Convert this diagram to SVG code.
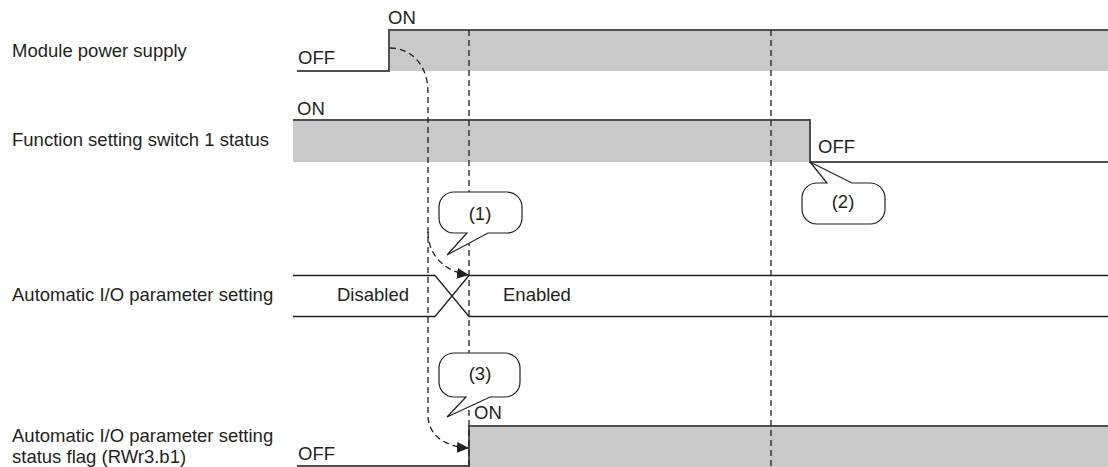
<svg xmlns="http://www.w3.org/2000/svg" width="1108" height="467" viewBox="0 0 1108 467">
<style>
text{font-family:"Liberation Sans",Arial,sans-serif;font-size:18.5px;fill:#231f20}
.lvl{stroke:#505050;stroke-width:2;fill:none}
.thin{stroke:#231f20;stroke-width:1.3;fill:none}
.fillg{fill:#c8c9ca}
.dash{stroke:#231f20;stroke-width:1.3;fill:none;stroke-dasharray:6 4}
.call{fill:#fff;stroke:#231f20;stroke-width:1.2}
.ct{text-anchor:middle}
</style>
<defs>
<marker id="ah" markerUnits="userSpaceOnUse" markerWidth="12" markerHeight="12" refX="11" refY="5" orient="auto" viewBox="0 0 11 10">
<path d="M0,0 L11,5 L0,10 z" fill="#231f20"/>
</marker>
</defs>
<g id="labels">
<text x="12" y="57">Module power supply</text>
<text x="12" y="146">Function setting switch 1 status</text>
<text x="12" y="301">Automatic I/O parameter setting</text>
<text x="12" y="442">Automatic I/O parameter setting</text>
<text x="12" y="463">status flag (RWr3.b1)</text>
</g>
<g id="power">
<rect class="fillg" x="389" y="30" width="719" height="41"/>
<path class="lvl" d="M297,71 H389 V30 H1108"/>
<text x="388" y="24">ON</text>
<text x="298" y="64">OFF</text>
</g>
<g id="switch">
<rect class="fillg" x="293" y="120" width="517" height="42"/>
<path class="lvl" d="M293,120 H810 V162 H1108"/>
<text x="297" y="115">ON</text>
<text x="818" y="153">OFF</text>
</g>
<g id="autoio">
<path class="thin" d="M293,275.5 H435 L469,316.5 H1108 M293,316.5 H435 L469,275.5 H1108"/>
<text x="337" y="301">Disabled</text>
<text x="503" y="301">Enabled</text>
</g>
<g id="flag">
<rect class="fillg" x="469" y="426" width="639" height="41"/>
<path class="lvl" d="M297,466 H469 V426 H1108"/>
<text x="298" y="460">OFF</text>
<text x="474" y="419">ON</text>
</g>
<g id="connectors">
<path class="dash" d="M469,30 V467"/>
<path class="dash" d="M771,30 V467"/>
<path class="dash" d="M390,48 C412,48 428,66 428,92 L428,415 C428,436 446,447 469,448" marker-end="url(#ah)"/>
<path class="dash" d="M428,232 C428,256 446,272 469,275" marker-end="url(#ah)"/>
</g>
<g id="callout1">
<path class="call" d="M454,192 H507 A15,15 0 0 1 522,207 V218 A15,15 0 0 1 507,233 H488 L447,255 L467,233 H454 A15,15 0 0 1 439,218 V207 A15,15 0 0 1 454,192 z"/>
<text class="ct" x="480" y="220">(1)</text>
</g>
<g id="callout2">
<path class="call" d="M817,183 H827 L810,162 L852,183 H870 A15,15 0 0 1 885,198 V209 A15,15 0 0 1 870,224 H817 A15,15 0 0 1 802,209 V198 A15,15 0 0 1 817,183 z"/>
<text class="ct" x="843" y="208">(2)</text>
</g>
<g id="callout3">
<path class="call" d="M454,353 H505 A15,15 0 0 1 520,368 V382 A15,15 0 0 1 505,397 H490 L447,417 L466,397 H454 A15,15 0 0 1 439,382 V368 A15,15 0 0 1 454,353 z"/>
<text class="ct" x="480" y="380">(3)</text>
</g>
</svg>
